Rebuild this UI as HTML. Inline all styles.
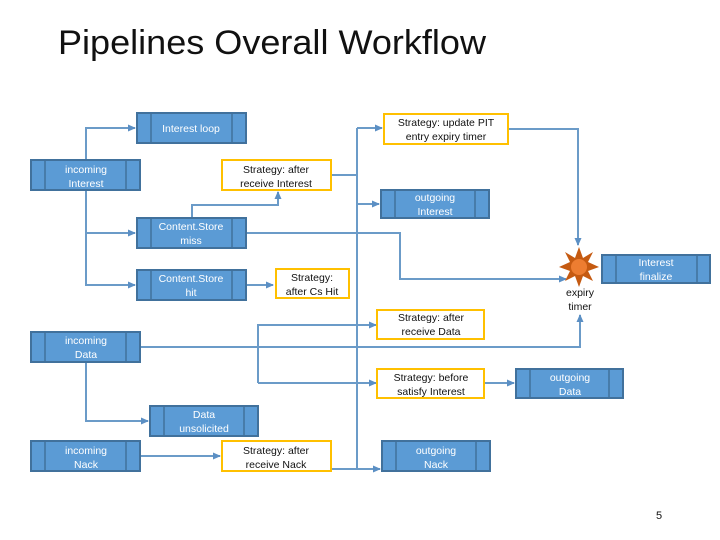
<!DOCTYPE html>
<html><head><meta charset="utf-8"><style>
html,body{margin:0;padding:0;background:#fff;}
svg{display:block;}
text{font-family:"Liberation Sans",sans-serif;}
</style></head><body>
<svg width="720" height="540" viewBox="0 0 720 540" xmlns="http://www.w3.org/2000/svg">
<defs>
<marker id="a" markerWidth="8" markerHeight="8" refX="7" refY="4" orient="auto" markerUnits="userSpaceOnUse">
<path d="M0,0.5 L8,4 L0,7.5 z" fill="#5b8fc4"/></marker>
</defs>
<text x="58" y="54" font-size="34" fill="#111" textLength="428" lengthAdjust="spacingAndGlyphs">Pipelines Overall Workflow</text>

<g fill="none" stroke="#6b9bc8" stroke-width="2">
<!-- incoming interest -->
<polyline points="86,160 86,128 135,128" marker-end="url(#a)"/>
<polyline points="86,190 86,285 135,285" marker-end="url(#a)"/>
<polyline points="86,233 135,233" marker-end="url(#a)"/>
<polyline points="192,218 192,205 278,205 278,192" marker-end="url(#a)"/>
<polyline points="246,285 273,285" marker-end="url(#a)"/>
<!-- vertical trunk -->
<polyline points="331,175 357,175"/>
<polyline points="357,128 357,469"/>
<polyline points="357,128 382,128" marker-end="url(#a)"/>
<polyline points="357,204 379,204" marker-end="url(#a)"/>
<polyline points="246,233 400,233 400,279 566,279" marker-end="url(#a)"/>
<polyline points="508,129 578,129 578,245" marker-end="url(#a)"/>
<!-- data -->
<polyline points="140,347 580,347 580,315" marker-end="url(#a)"/>
<polyline points="86,362 86,421 148,421" marker-end="url(#a)"/>
<polyline points="258,383 258,325 376,325" marker-end="url(#a)"/>
<polyline points="258,383 376,383" marker-end="url(#a)"/>
<polyline points="484,383 514,383" marker-end="url(#a)"/>
<!-- nack -->
<polyline points="140,456 220,456" marker-end="url(#a)"/>
<polyline points="331,469 380,469" marker-end="url(#a)"/>
</g>

<g stroke="#41719c" stroke-width="2" fill="#5b9bd5">
<rect x="137" y="113" width="109" height="30"/>
<rect x="31" y="160" width="109" height="30"/>
<rect x="137" y="218" width="109" height="30"/>
<rect x="137" y="270" width="109" height="30"/>
<rect x="381" y="190" width="108" height="28"/>
<rect x="602" y="255" width="108" height="28"/>
<rect x="31" y="332" width="109" height="30"/>
<rect x="150" y="406" width="108" height="30"/>
<rect x="31" y="441" width="109" height="30"/>
<rect x="382" y="441" width="108" height="30"/>
<rect x="516" y="369" width="107" height="29"/>
</g>
<g stroke="#41719c" stroke-width="1.5">
<line x1="151" y1="113" x2="151" y2="143"/><line x1="232" y1="113" x2="232" y2="143"/>
<line x1="45" y1="160" x2="45" y2="190"/><line x1="126" y1="160" x2="126" y2="190"/>
<line x1="151" y1="218" x2="151" y2="248"/><line x1="232" y1="218" x2="232" y2="248"/>
<line x1="151" y1="270" x2="151" y2="300"/><line x1="232" y1="270" x2="232" y2="300"/>
<line x1="395" y1="190" x2="395" y2="218"/><line x1="475" y1="190" x2="475" y2="218"/>
<line x1="616" y1="255" x2="616" y2="283"/><line x1="697" y1="255" x2="697" y2="283"/>
<line x1="45" y1="332" x2="45" y2="362"/><line x1="126" y1="332" x2="126" y2="362"/>
<line x1="164" y1="406" x2="164" y2="436"/><line x1="244" y1="406" x2="244" y2="436"/>
<line x1="45" y1="441" x2="45" y2="471"/><line x1="126" y1="441" x2="126" y2="471"/>
<line x1="396" y1="441" x2="396" y2="471"/><line x1="476" y1="441" x2="476" y2="471"/>
<line x1="530" y1="369" x2="530" y2="398"/><line x1="609" y1="369" x2="609" y2="398"/>
</g>
<g stroke="#ffc000" stroke-width="2" fill="#fff">
<rect x="384" y="114" width="124" height="30"/>
<rect x="222" y="160" width="109" height="30"/>
<rect x="276" y="269" width="73" height="29"/>
<rect x="377" y="310" width="107" height="29"/>
<rect x="377" y="369" width="107" height="29"/>
<rect x="222" y="441" width="109" height="30"/>
</g>
<!-- star -->
<polygon fill="#c55a11" points="579,247 583,258 593,252 588,262 599,267 588,271 593,281 583,276 579,287 575,276 565,281 570,271 559,267 570,262 565,252 575,258"/>
<circle cx="579" cy="267" r="8" fill="#ed7d31"/>

<g font-size="10.5" fill="#fff" text-anchor="middle">
<text x="191" y="132">Interest loop</text>
<text x="86" y="173">incoming</text><text x="86" y="187">Interest</text>
<text x="191" y="230">Content.Store</text><text x="191" y="244">miss</text>
<text x="191" y="282">Content.Store</text><text x="191" y="296">hit</text>
<text x="435" y="201">outgoing</text><text x="435" y="215">Interest</text>
<text x="656" y="266">Interest</text><text x="656" y="280">finalize</text>
<text x="86" y="344">incoming</text><text x="86" y="358">Data</text>
<text x="204" y="418">Data</text><text x="204" y="432">unsolicited</text>
<text x="86" y="454">incoming</text><text x="86" y="468">Nack</text>
<text x="436" y="454">outgoing</text><text x="436" y="468">Nack</text>
<text x="570" y="381">outgoing</text><text x="570" y="395">Data</text>
</g>
<g font-size="10.5" fill="#111" text-anchor="middle">
<text x="446" y="126">Strategy: update PIT</text><text x="446" y="140">entry expiry timer</text>
<text x="276" y="173">Strategy: after</text><text x="276" y="187">receive Interest</text>
<text x="312" y="281">Strategy:</text><text x="312" y="295">after Cs Hit</text>
<text x="431" y="321">Strategy: after</text><text x="431" y="335">receive Data</text>
<text x="431" y="381">Strategy: before</text><text x="431" y="395">satisfy Interest</text>
<text x="276" y="454">Strategy: after</text><text x="276" y="468">receive Nack</text>
<text x="580" y="296">expiry</text><text x="580" y="310">timer</text>
<text x="659" y="519" font-size="11">5</text>
</g>
</svg>
</body></html>
